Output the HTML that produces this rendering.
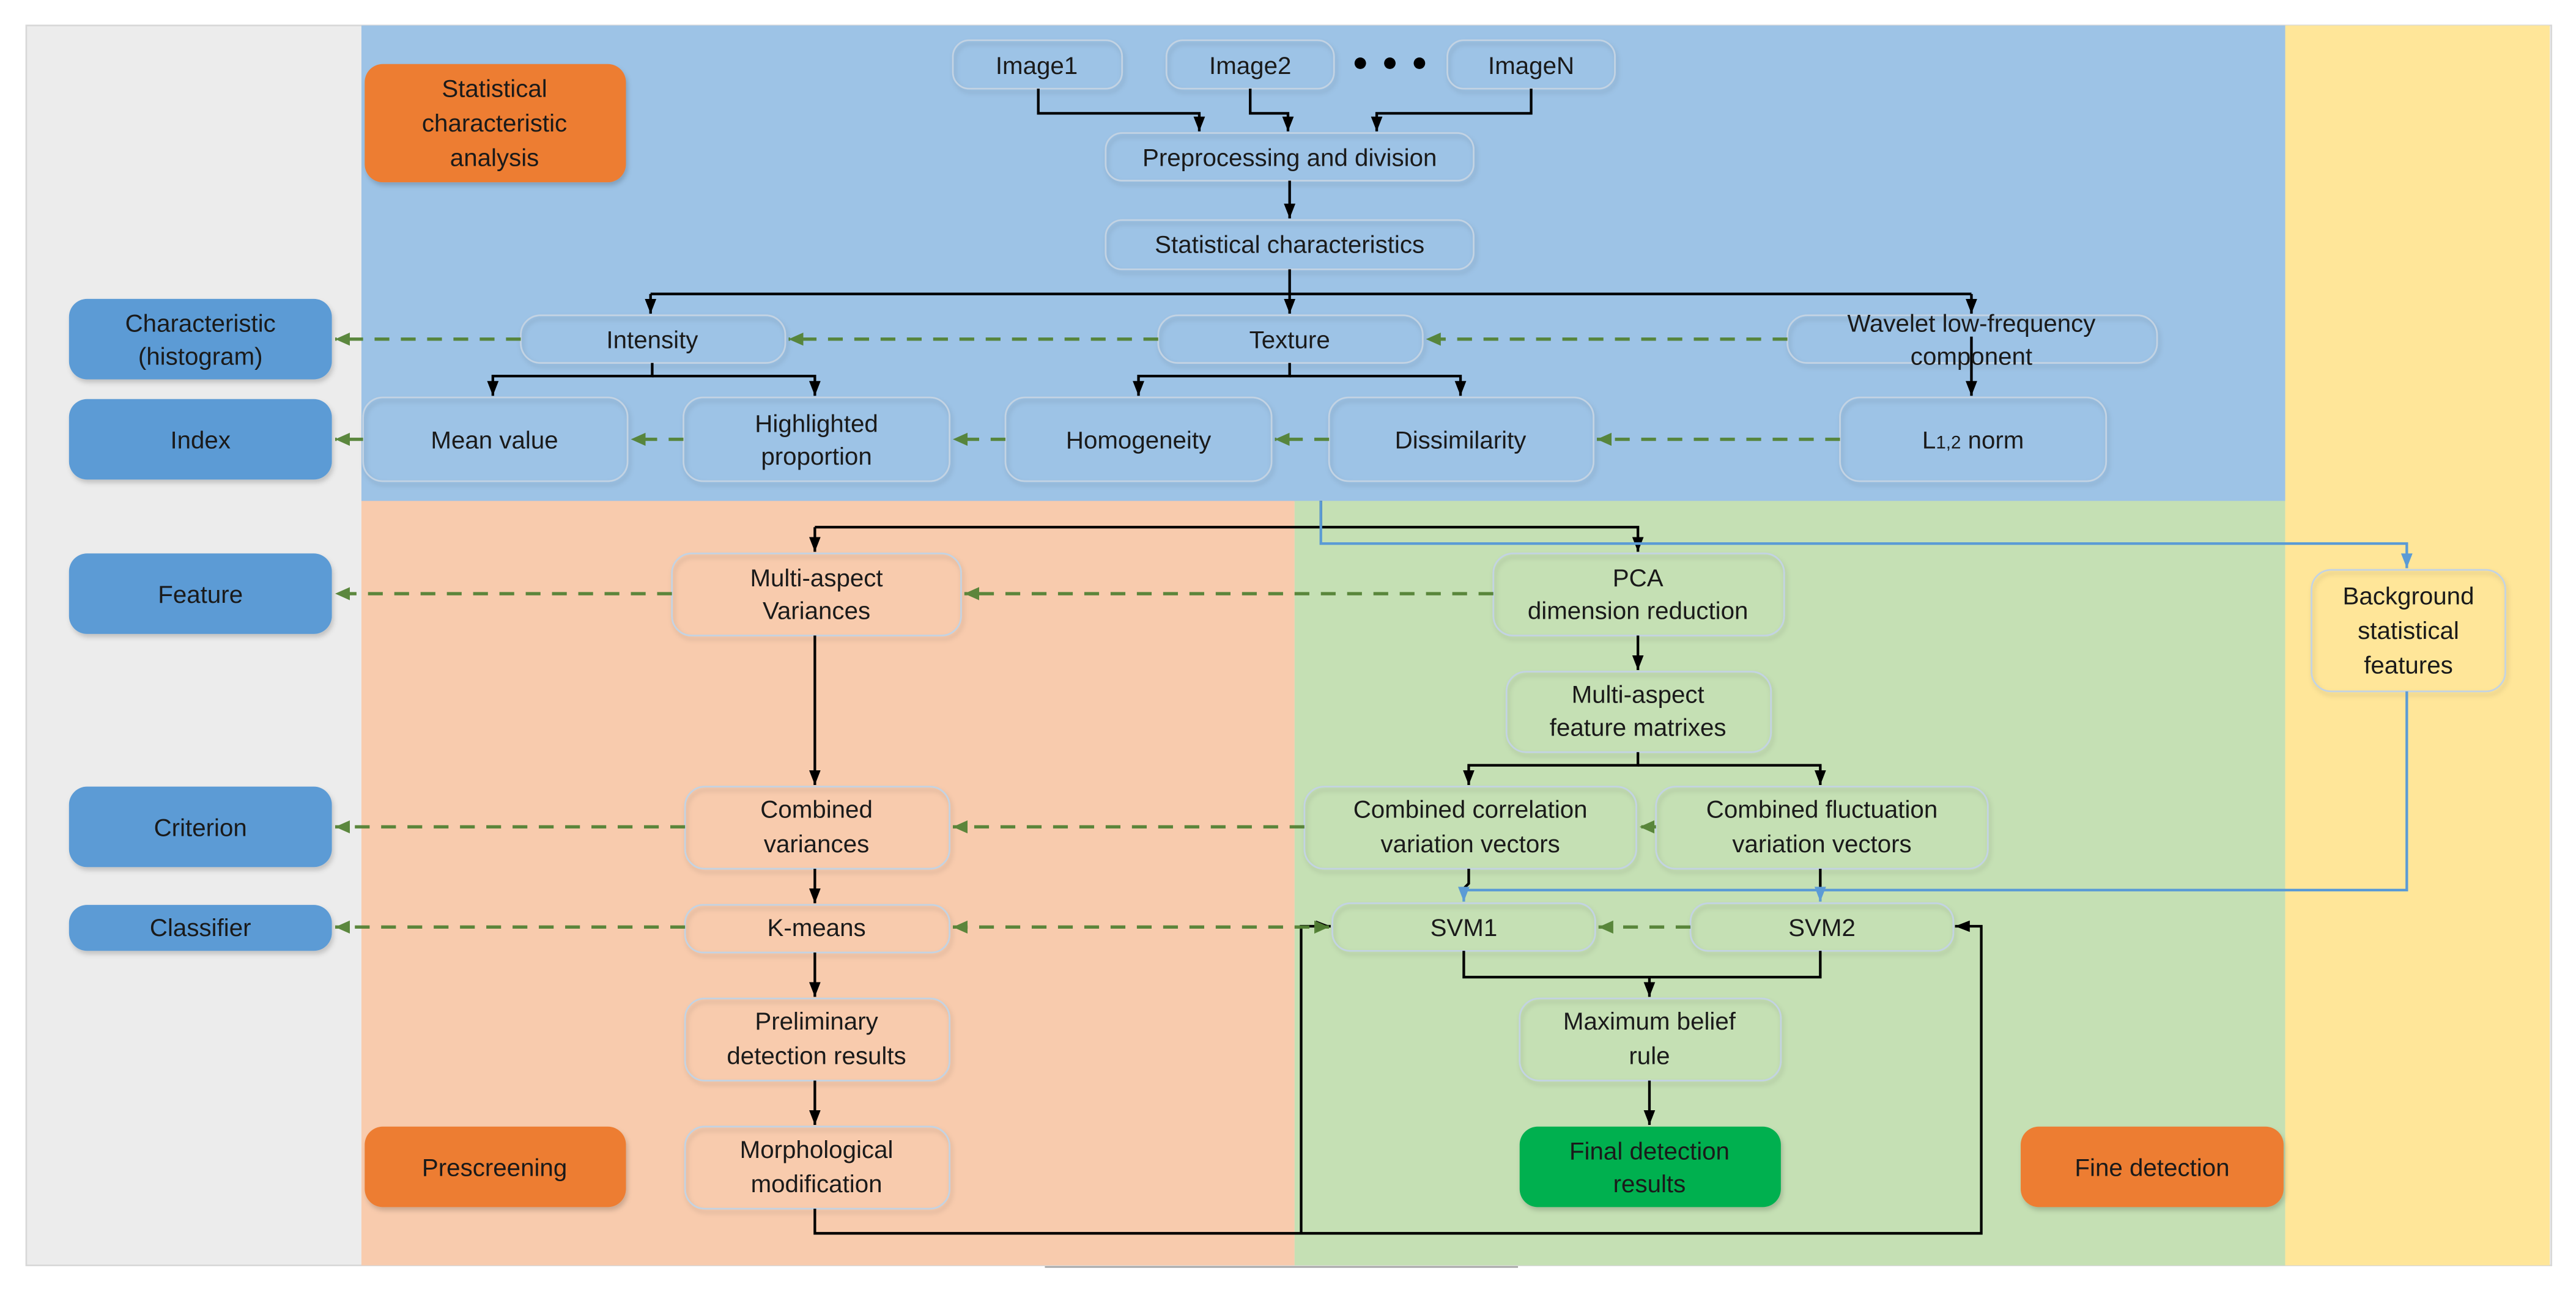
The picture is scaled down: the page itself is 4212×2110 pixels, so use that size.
<!DOCTYPE html>
<html><head><meta charset="utf-8"><style>
html,body{margin:0;padding:0;background:#fff;}
svg{display:block;}
text{font-family:"Liberation Sans",sans-serif;font-size:15px;fill:#1a1a1a;text-anchor:middle;}
</style></head><body>
<svg width="4212" height="2110" viewBox="0 0 1568 785.5" preserveAspectRatio="none" xmlns="http://www.w3.org/2000/svg">
<defs>
<marker id="ab" markerUnits="userSpaceOnUse" markerWidth="10" markerHeight="10" refX="9" refY="5" orient="auto"><path d="M0,1.5 L9,5 L0,8.5 Z" fill="#000"/></marker>
<marker id="ag" markerUnits="userSpaceOnUse" markerWidth="10" markerHeight="10" refX="9" refY="5" orient="auto"><path d="M0,1 L9,5 L0,9 Z" fill="#548235"/></marker>
<marker id="ags" markerUnits="userSpaceOnUse" markerWidth="10" markerHeight="10" refX="1" refY="5" orient="auto"><path d="M10,1 L1,5 L10,9 Z" fill="#548235"/></marker>
<marker id="al" markerUnits="userSpaceOnUse" markerWidth="10" markerHeight="10" refX="9" refY="5" orient="auto"><path d="M0,1.5 L9,5 L0,8.5 Z" fill="#5b9bd5"/></marker>
<filter id="sh" x="-10%" y="-10%" width="130%" height="140%"><feDropShadow dx="1" dy="2" stdDeviation="1.5" flood-color="#000" flood-opacity="0.18"/></filter>
</defs>
<!-- backgrounds -->
<rect x="16" y="15.5" width="1537" height="755" fill="#ececec" stroke="#d8d8d8" stroke-width="1"/>
<rect x="220" y="15.5" width="1171" height="290" fill="#9dc3e6"/>
<rect x="220" y="305" width="568" height="465.5" fill="#f8cbad"/>
<rect x="788" y="305" width="603" height="465.5" fill="#c5e0b4"/>
<rect x="1391" y="15.5" width="161" height="755" fill="#ffe699"/>
<line x1="636" y1="771.5" x2="924" y2="771.5" stroke="#aaa" stroke-width="1"/>

<!-- colored side nodes -->
<g filter="url(#sh)">
<rect x="222" y="39" width="159" height="72" rx="11" fill="#ed7d31"/>
<rect x="222" y="686" width="159" height="49" rx="11" fill="#ed7d31"/>
<rect x="1230" y="686" width="160" height="49" rx="11" fill="#ed7d31"/>
<rect x="42" y="182" width="160" height="49" rx="11" fill="#5b9bd5"/>
<rect x="42" y="243" width="160" height="49" rx="11" fill="#5b9bd5"/>
<rect x="42" y="337" width="160" height="49" rx="11" fill="#5b9bd5"/>
<rect x="42" y="479" width="160" height="49" rx="11" fill="#5b9bd5"/>
<rect x="42" y="551" width="160" height="28" rx="11" fill="#5b9bd5"/>
<rect x="925" y="686" width="159" height="49" rx="11" fill="#00b050"/>
</g>

<!-- light nodes -->
<g fill="none" stroke="#c3d3e3" stroke-width="1" filter="url(#sh)">
<rect x="580" y="24.5" width="103" height="29.5" rx="10"/>
<rect x="710" y="24.5" width="102" height="29.5" rx="10"/>
<rect x="881" y="24.5" width="102" height="29.5" rx="10"/>
<rect x="673" y="81" width="224" height="29" rx="10"/>
<rect x="673" y="134" width="224" height="30" rx="10"/>
<rect x="317" y="192" width="161" height="29" rx="12"/>
<rect x="705" y="192" width="161" height="29" rx="12"/>
<rect x="1088" y="192" width="225" height="29" rx="12"/>
<rect x="221" y="242" width="161" height="51" rx="12"/>
<rect x="416" y="242" width="162" height="51" rx="12"/>
<rect x="612" y="242" width="162" height="51" rx="12"/>
<rect x="809" y="242" width="161" height="51" rx="12"/>
<rect x="1120" y="242" width="162" height="51" rx="12"/>
<rect x="409" y="337" width="176" height="50" rx="12"/>
<rect x="909" y="337" width="177" height="50" rx="12"/>
<rect x="1407" y="347" width="118" height="74" rx="12"/>
<rect x="917" y="409" width="161" height="49" rx="12"/>
<rect x="417" y="479" width="161" height="50" rx="12"/>
<rect x="794" y="479" width="202" height="50" rx="12"/>
<rect x="1008" y="479" width="202" height="50" rx="12"/>
<rect x="417" y="551" width="161" height="29" rx="11"/>
<rect x="811" y="550" width="160" height="29" rx="11"/>
<rect x="1029" y="550" width="160" height="29" rx="11"/>
<rect x="417" y="608" width="161" height="50" rx="12"/>
<rect x="925" y="608" width="159" height="50" rx="12"/>
<rect x="417" y="686" width="161" height="50" rx="12"/>
</g>

<!-- dots -->
<circle cx="828" cy="38.5" r="3.5" fill="#000"/><circle cx="846" cy="38.5" r="3.5" fill="#000"/><circle cx="864" cy="38.5" r="3.5" fill="#000"/>

<!-- black connectors -->
<g fill="none" stroke="#000" stroke-width="1.6">
<path d="M632,54 V69 H730 V80" marker-end="url(#ab)"/>
<path d="M761,54 V69 H784 V80" marker-end="url(#ab)"/>
<path d="M932,54 V69 H838 V80" marker-end="url(#ab)"/>
<path d="M785,110 V133" marker-end="url(#ab)"/>
<path d="M785,164 V191" marker-end="url(#ab)"/>
<path d="M396,179 H1200" />
<path d="M396,179 V191" marker-end="url(#ab)"/>
<path d="M1200,179 V191" marker-end="url(#ab)"/>
<path d="M397,221 V229 H300 V241" marker-end="url(#ab)"/>
<path d="M397,229 H496 V241" marker-end="url(#ab)"/>
<path d="M785,221 V229 H693 V241" marker-end="url(#ab)"/>
<path d="M785,229 H889 V241" marker-end="url(#ab)"/>
<path d="M1200,205 V241" marker-end="url(#ab)"/>
<path d="M804,305 V321" />
<path d="M496,321 H997 V336" marker-end="url(#ab)"/>
<path d="M496,321 V336" marker-end="url(#ab)"/>
<path d="M997,387 V408" marker-end="url(#ab)"/>
<path d="M997,458 V466 H894 V478" marker-end="url(#ab)"/>
<path d="M997,466 H1108 V478" marker-end="url(#ab)"/>
<path d="M496,387 V478" marker-end="url(#ab)"/>
<path d="M496,529 V550" marker-end="url(#ab)"/>
<path d="M496,580 V607" marker-end="url(#ab)"/>
<path d="M496,658 V685" marker-end="url(#ab)"/>
<path d="M894,529 V538 L891,541"/>
<path d="M1108,529 V540"/>
<path d="M891,579 V595 H1108 V579"/>
<path d="M1004,595 V607" marker-end="url(#ab)"/>
<path d="M1004,658 V685" marker-end="url(#ab)"/>
<path d="M496,736 V751 H1206 V564 H1190" marker-end="url(#ab)"/>
<path d="M792,751 V564 H810" marker-end="url(#ab)"/>
</g>

<!-- blue connectors -->
<g fill="none" stroke="#5b9bd5" stroke-width="1.6">
<path d="M804,305 V331 H1465 V346" marker-end="url(#al)"/>
<path d="M1465,421 V542 H891 V549" marker-end="url(#al)"/>
<path d="M1108,542 V549" marker-end="url(#al)"/>
</g>

<!-- green dashed -->
<g fill="none" stroke="#548235" stroke-width="2" stroke-dasharray="9,7" opacity="0.95">
<path d="M317,206.5 H204" marker-end="url(#ag)"/>
<path d="M705,206.5 H480" marker-end="url(#ag)"/>
<path d="M1088,206.5 H868" marker-end="url(#ag)"/>
<path d="M221,267.5 H204" marker-end="url(#ag)"/>
<path d="M416,267.5 H384" marker-end="url(#ag)"/>
<path d="M612,267.5 H580" marker-end="url(#ag)"/>
<path d="M809,267.5 H776" marker-end="url(#ag)"/>
<path d="M1120,267.5 H972" marker-end="url(#ag)"/>
<path d="M409,361.5 H204" marker-end="url(#ag)"/>
<path d="M909,361.5 H587" marker-end="url(#ag)"/>
<path d="M417,503.5 H204" marker-end="url(#ag)"/>
<path d="M794,503.5 H580" marker-end="url(#ag)"/>
<path d="M1008,503.5 H998" marker-end="url(#ag)"/>
<path d="M417,564.5 H204" marker-end="url(#ag)"/>
<path d="M580,564.5 H809" marker-start="url(#ags)" marker-end="url(#ag)"/>
<path d="M1029,564.5 H973" marker-end="url(#ag)"/>
</g>

<!-- labels -->
<text x="301" y="59">Statistical</text>
<text x="301" y="80">characteristic</text>
<text x="301" y="101">analysis</text>
<text x="301" y="716">Prescreening</text>
<text x="1310" y="716">Fine detection</text>
<text x="122" y="202">Characteristic</text>
<text x="122" y="222">(histogram)</text>
<text x="122" y="273">Index</text>
<text x="122" y="367">Feature</text>
<text x="122" y="509">Criterion</text>
<text x="122" y="570">Classifier</text>
<text x="1004" y="706">Final detection</text>
<text x="1004" y="726">results</text>

<text x="631" y="45">Image1</text>
<text x="761" y="45">Image2</text>
<text x="932" y="45">ImageN</text>
<text x="785" y="101">Preprocessing and division</text>
<text x="785" y="154">Statistical characteristics</text>
<text x="397" y="212">Intensity</text>
<text x="785" y="212">Texture</text>
<text x="1200" y="202">Wavelet low-frequency</text>
<text x="1200" y="222">component</text>
<text x="301" y="273">Mean value</text>
<text x="497" y="263">Highlighted</text>
<text x="497" y="283">proportion</text>
<text x="693" y="273">Homogeneity</text>
<text x="889" y="273">Dissimilarity</text>
<text x="1201" y="273">L<tspan font-size="11">1,2</tspan> norm</text>
<text x="497" y="357">Multi-aspect</text>
<text x="497" y="377">Variances</text>
<text x="997" y="357">PCA</text>
<text x="997" y="377">dimension reduction</text>
<text x="1466" y="368">Background</text>
<text x="1466" y="389">statistical</text>
<text x="1466" y="410">features</text>
<text x="997" y="428">Multi-aspect</text>
<text x="997" y="448">feature matrixes</text>
<text x="497" y="498">Combined</text>
<text x="497" y="519">variances</text>
<text x="895" y="498">Combined correlation</text>
<text x="895" y="519">variation vectors</text>
<text x="1109" y="498">Combined fluctuation</text>
<text x="1109" y="519">variation vectors</text>
<text x="497" y="570">K-means</text>
<text x="891" y="570">SVM1</text>
<text x="1109" y="570">SVM2</text>
<text x="497" y="627">Preliminary</text>
<text x="497" y="648">detection results</text>
<text x="1004" y="627">Maximum belief</text>
<text x="1004" y="648">rule</text>
<text x="497" y="705">Morphological</text>
<text x="497" y="726">modification</text>
</svg>
</body></html>
